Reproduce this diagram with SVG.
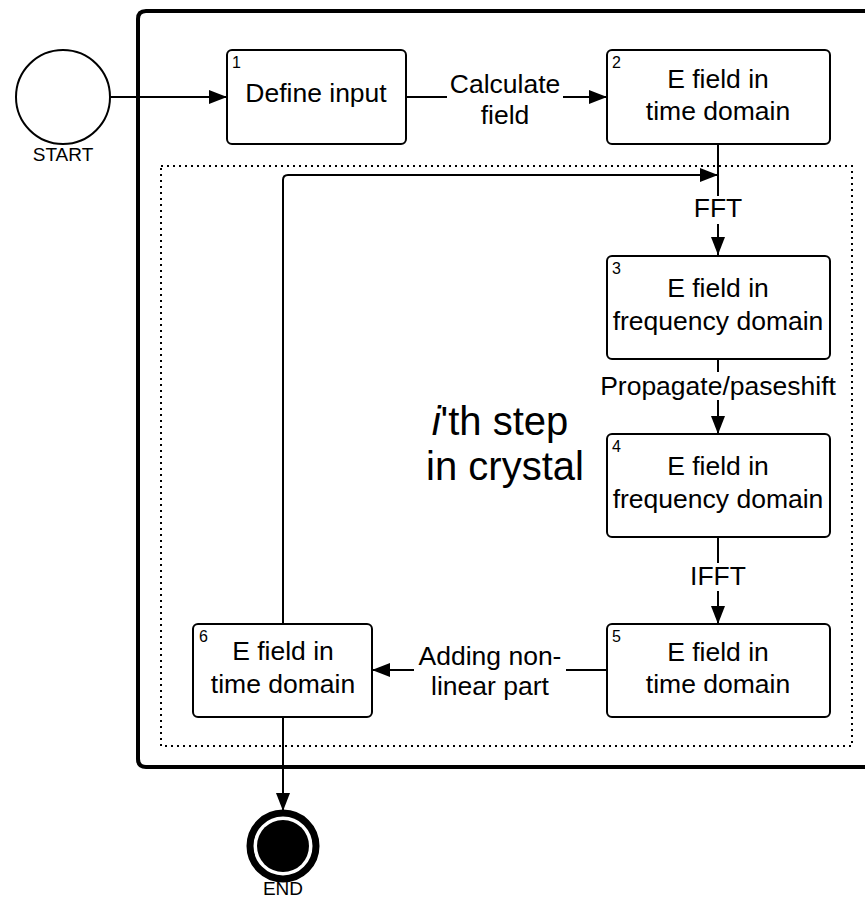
<svg xmlns="http://www.w3.org/2000/svg" width="865" height="898" viewBox="0 0 865 898">
<style>
.box{fill:#fff;stroke:#000;stroke-width:2}
.t{font-family:"Liberation Sans",Arial,sans-serif;font-size:26.5px;fill:#000;text-anchor:middle}
.n{font-family:"Liberation Sans",Arial,sans-serif;font-size:16px;fill:#000}
.s{font-family:"Liberation Sans",Arial,sans-serif;font-size:19px;fill:#000;text-anchor:middle}
.big{font-family:"Liberation Sans",Arial,sans-serif;font-size:40px;fill:#000;text-anchor:middle}
.c{fill:none;stroke:#000;stroke-width:2}
.lbl{fill:#fff}
</style>
<defs>
<marker id="arr" markerUnits="userSpaceOnUse" markerWidth="18" markerHeight="14" refX="18" refY="7" orient="auto">
<path d="M0,0 L18,7 L0,14 z" fill="#000"/>
</marker>
</defs>
<rect id="bg" x="0" y="0" width="865" height="898" fill="#fff"/>
<g id="frame">
<path d="M880,11 L146,11 Q138,11 138,19 L138,759 Q138,767 146,767 L880,767" fill="none" stroke="#000" stroke-width="4"/>
<rect x="161" y="166" width="691" height="580" fill="none" stroke="#000" stroke-width="2" stroke-dasharray="2 4"/>
<text class="big" x="500" y="435"><tspan font-style="italic">i</tspan>'th step</text>
<text class="big" x="505" y="480">in crystal</text>
</g>
<g id="connectors">
<line class="c" x1="111" y1="97" x2="227" y2="97" marker-end="url(#arr)"/>
<line class="c" x1="406" y1="97" x2="607" y2="97" marker-end="url(#arr)"/>
<line class="c" x1="718" y1="144" x2="718" y2="255" marker-end="url(#arr)"/>
<line class="c" x1="718" y1="359" x2="718" y2="434" marker-end="url(#arr)"/>
<line class="c" x1="718" y1="537" x2="718" y2="624" marker-end="url(#arr)"/>
<line class="c" x1="607" y1="670" x2="372" y2="670" marker-end="url(#arr)"/>
<path class="c" d="M283,624 L283,180 Q283,175 288,175 L718,175" marker-end="url(#arr)"/>
<line class="c" x1="283" y1="717" x2="283" y2="811" marker-end="url(#arr)"/>
<rect class="lbl" x="447" y="70" width="116" height="60"/>
<text class="t" x="505" y="93">Calculate</text>
<text class="t" x="505" y="124">field</text>
<rect class="lbl" x="690" y="196" width="56" height="28"/>
<text class="t" x="718" y="217">FFT</text>
<rect class="lbl" x="596" y="372" width="244" height="28"/>
<text class="t" x="718" y="395">Propagate/paseshift</text>
<rect class="lbl" x="688" y="563" width="60" height="28"/>
<text class="t" x="718" y="585">IFFT</text>
<rect class="lbl" x="414" y="642" width="152" height="60"/>
<text class="t" x="490" y="665">Adding non-</text>
<text class="t" x="490" y="695">linear part</text>
</g>
<g id="start">
<circle cx="63" cy="97" r="47" fill="#fff" stroke="#000" stroke-width="2"/>
<text class="s" x="63" y="161">START</text>
</g>
<g id="n1">
<rect class="box" x="227" y="50" width="179" height="94" rx="5"/>
<text class="n" x="232" y="68">1</text>
<text class="t" x="316" y="102">Define input</text>
</g>
<g id="n2">
<rect class="box" x="607" y="50" width="223" height="94" rx="5"/>
<text class="n" x="612" y="68">2</text>
<text class="t" x="718" y="88">E field in</text>
<text class="t" x="718" y="120">time domain</text>
</g>
<g id="n3">
<rect class="box" x="607" y="256" width="223" height="103" rx="5"/>
<text class="n" x="612" y="274">3</text>
<text class="t" x="718" y="297">E field in</text>
<text class="t" x="718" y="330">frequency domain</text>
</g>
<g id="n4">
<rect class="box" x="607" y="434" width="223" height="103" rx="5"/>
<text class="n" x="612" y="452">4</text>
<text class="t" x="718" y="475">E field in</text>
<text class="t" x="718" y="508">frequency domain</text>
</g>
<g id="n5">
<rect class="box" x="607" y="624" width="223" height="93" rx="5"/>
<text class="n" x="612" y="642">5</text>
<text class="t" x="718" y="661">E field in</text>
<text class="t" x="718" y="693">time domain</text>
</g>
<g id="n6">
<rect class="box" x="193" y="624" width="179" height="93" rx="5"/>
<text class="n" x="199" y="642">6</text>
<text class="t" x="283" y="660">E field in</text>
<text class="t" x="283" y="693">time domain</text>
</g>
<g id="end">
<circle cx="283" cy="846" r="33" fill="#fff" stroke="#000" stroke-width="7"/>
<circle cx="283" cy="846" r="26" fill="#000"/>
<text class="s" x="283" y="895">END</text>
</g>
</svg>
